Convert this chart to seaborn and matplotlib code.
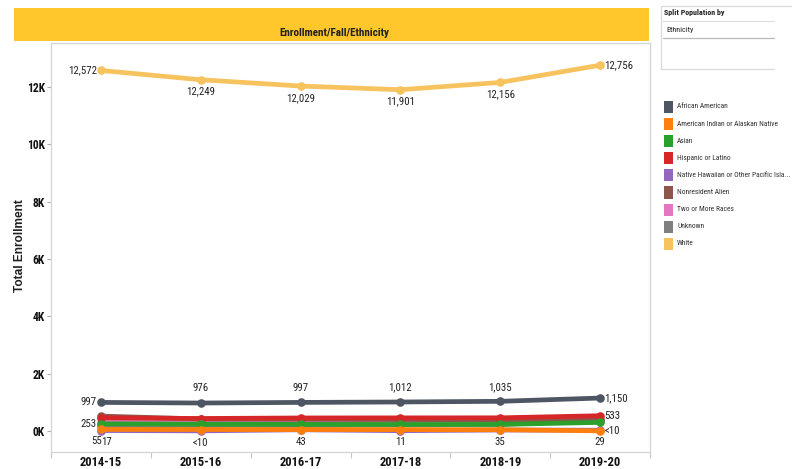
import numpy as np
import pandas as pd
import matplotlib
matplotlib.use("Agg")
import matplotlib.pyplot as plt
from matplotlib import font_manager
from matplotlib.patches import Rectangle
from matplotlib.lines import Line2D
import seaborn as sns

# ---- data -------------------------------------------------------------
years = ["2014-15", "2015-16", "2016-17", "2017-18", "2018-19", "2019-20"]

ethnicities = [
    "African American",
    "American Indian or Alaskan Native",
    "Asian",
    "Hispanic or Latino",
    "Native Hawaiian or Other Pacific Isla...",
    "Nonresident Alien",
    "Two or More Races",
    "Unknown",
    "White",
]

african_american = [997, 976, 997, 1012, 1035, 1150]
american_indian = [55, 52, 50, 48, 45, 5]
asian = [253, 240, 230, 228, 230, 300]
hispanic = [460, 436, 455, 458, 460, 533]
native_hawaiian = [17, 5, 43, 11, 35, 29]
nonresident_alien = [520, 420, 410, 400, 390, 380]
two_or_more = [330, 335, 340, 345, 350, 400]
unknown = [180, 190, 200, 210, 230, 370]
white = [12572, 12249, 12029, 11901, 12156, 12756]

series_values = [african_american, american_indian, asian, hispanic,
                 native_hawaiian, nonresident_alien, two_or_more, unknown, white]

y_ticks = [0, 2000, 4000, 6000, 8000, 10000, 12000]
y_tick_labels = ["0K", "2K", "4K", "6K", "8K", "10K", "12K"]

# ---- styling ------------------------------------------------------------
colors = ["#4e5563", "#ff7f0e", "#2ca02c", "#d62728", "#9467bd",
          "#8c564b", "#e377c2", "#7f7f7f", "#f6c35e"]
palette = dict(zip(ethnicities, colors))

# series drawn later sit on top
draw_order = ["White", "Unknown", "Two or More Races", "Nonresident Alien",
              "Native Hawaiian or Other Pacific Isla...", "Hispanic or Latino",
              "Asian", "American Indian or Alaskan Native", "African American"]

# where each point's value label sits (None = no label)
label_pos = {
    "African American": ["left", "above", "above", "above", "above", "right"],
    "American Indian or Alaskan Native": ["below_l", None, None, None, None, "right"],
    "Asian": ["left", None, None, None, None, None],
    "Hispanic or Latino": [None, None, None, None, None, "right"],
    "Native Hawaiian or Other Pacific Isla...": ["below_r", "below", "below", "below", "below", "below"],
    "White": ["left", "below", "below", "below", "below", "right"],
}

sns.set_theme(style="white")

# pick a condensed sans face if one is installed
names = {f.name for f in font_manager.fontManager.ttflist}
narrow = None
for cand in ["Liberation Sans Narrow", "Roboto Condensed", "Open Sans Condensed",
             "Noto Sans Condensed", "DejaVu Sans Condensed"]:
    if cand in names:
        narrow = cand
        break
if narrow is None:
    base = "Liberation Sans"
    k = 0.86          # smaller sizes to keep text widths in line
else:
    base = narrow
    k = 1.0
plt.rcParams["font.family"] = [base, "DejaVu Sans"]

W, H = 792, 469
fig = plt.figure(figsize=(W / 100, H / 100), dpi=100)
fig.patch.set_facecolor("white")


def fx(px):
    return px / W


def fy(py):
    return 1 - py / H


# title banner
fig.add_artist(Rectangle((fx(14), fy(41)), fx(649) - fx(14), fy(8) - fy(41),
                         transform=fig.transFigure, facecolor="#ffc72c",
                         edgecolor="none", zorder=0))
fig.text(fx(334), fy(32.5), "Enrollment/Fall/Ethnicity", ha="center", va="center",
         fontsize=8 * k, fontweight="bold", color="#222222")

# plot area
ax = fig.add_axes([fx(51), fy(452), fx(650) - fx(51), fy(43) - fy(452)])

rows = []
for name in draw_order:
    vals = series_values[ethnicities.index(name)]
    for yr, v in zip(years, vals):
        rows.append({"Year": yr, "Ethnicity": name, "Enrollment": v})
df = pd.DataFrame(rows)

sns.lineplot(data=df, x="Year", y="Enrollment", hue="Ethnicity",
             hue_order=draw_order, palette=palette, marker="o",
             markersize=6.2, markeredgewidth=0, linewidth=3.4,
             sort=False, legend=False, ax=ax)

ax.set_xlim(-0.5, 5.5)
ax.set_ylim(-732, 13530)
ax.set_yticks(y_ticks)
ax.set_yticklabels(y_tick_labels)
ax.set_xticks(range(len(years)))
ax.set_xticklabels(years)
ax.set_xticks(np.arange(-0.5, 6, 1), minor=True)
ax.set_xlabel("")
ax.set_ylabel("")

for s in ax.spines.values():
    s.set_color("#d4d4d4")
    s.set_linewidth(0.9)

ax.tick_params(axis="y", which="major", left=True, length=3, width=0.8,
               color="#b0b0b0", pad=1.5, labelsize=8.4 * k)
ax.tick_params(axis="x", which="major", bottom=True, length=0, pad=3.0,
               labelsize=9 * k)
ax.tick_params(axis="x", which="minor", bottom=True, length=4, width=0.8,
               color="#c8c8c8")
for lab in ax.get_yticklabels() + ax.get_xticklabels():
    lab.set_fontweight("bold")
    lab.set_color("#111111")

fig.text(fx(20), fy(246), "Total Enrollment", rotation=90, ha="center",
         va="center", fontsize=8.6, fontweight="bold", color="#222222",
         family=["Liberation Sans", "DejaVu Sans"])


def fmt(v):
    return "<10" if v < 10 else f"{v:,}"


offsets = {
    "left": ((-3, 0), "right", "center"),
    "right": ((3, 0), "left", "center"),
    "above": ((0, 10.5), "center", "center"),
    "below": ((0, -8.5), "center", "center"),
    "below_l": ((0.5, -8), "right", "center"),
    "below_r": ((0.5, -8), "left", "center"),
}

for name, vals in zip(ethnicities, series_values):
    spec = label_pos.get(name)
    if not spec:
        continue
    for i, (v, pos) in enumerate(zip(vals, spec)):
        if pos is None:
            continue
        off, ha, va = offsets[pos]
        ax.annotate(fmt(v), (i, v), xytext=off, textcoords="offset points",
                    ha=ha, va=va, fontsize=7.8 * k, color="#222222", zorder=10)

# filter panel
line_kw = dict(transform=fig.transFigure, color="#dadada", lw=0.9)
fig.add_artist(Line2D([fx(661), fx(792)], [fy(6), fy(6)], **line_kw))
fig.add_artist(Line2D([fx(661), fx(661)], [fy(6), fy(69)], **line_kw))
fig.add_artist(Line2D([fx(661), fx(774)], [fy(69), fy(69)], **line_kw))
fig.add_artist(Line2D([fx(663), fx(774)], [fy(21), fy(21)], transform=fig.transFigure,
                      color="#dddddd", lw=0.8))
fig.add_artist(Line2D([fx(663), fx(774)], [fy(38), fy(38)], transform=fig.transFigure,
                      color="#b8b8b8", lw=0.9))
fig.text(fx(664), fy(12.5), "Split Population by", ha="left", va="center",
         fontsize=5.8 * k, fontweight="bold", color="#222222")
fig.text(fx(666), fy(30), "Ethnicity", ha="left", va="center",
         fontsize=5.8 * k, color="#222222")

# colour legend
for i, (name, col) in enumerate(zip(ethnicities, colors)):
    yc = 107 + i * 17.1
    fig.add_artist(Rectangle((fx(664), fy(yc + 6)), fx(673) - fx(664), fy(yc - 6) - fy(yc + 6),
                             transform=fig.transFigure, facecolor=col, edgecolor="none"))
    fig.text(fx(677), fy(yc), name, ha="left", va="center", fontsize=5.4 * k,
             color="#333333")

fig.savefig("out.png", dpi=100)
